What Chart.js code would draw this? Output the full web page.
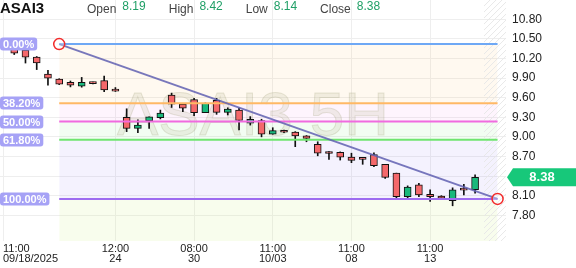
<!DOCTYPE html>
<html>
<head>
<meta charset="utf-8">
<script src="https://cdn.jsdelivr.net/npm/chart.js@4.4.0/dist/chart.umd.min.js"></script>
<style>
  html, body { margin: 0; padding: 0; background: #fff; }
  #wrap { width: 576px; height: 268px; }
</style>
</head>
<body>
<div id="wrap"><canvas id="chart" width="576" height="268"></canvas></div>
<script>
// ── Data ──────────
const symbol = 'ASAI3';
const interval = '5H';

const opens  = [10.40, 10.34, 10.33, 10.22, 9.96, 9.885, 9.835, 9.775, 9.83, 9.86, 9.73,
                9.30, 9.13, 9.245, 9.295, 9.64, 9.50, 9.57, 9.37, 9.56, 9.375,
                9.41, 9.21, 9.25, 9.04, 9.10, 9.075, 9.015, 8.885, 8.75, 8.765,
                8.69, 8.66, 8.73, 8.58, 8.445, 8.085, 8.265, 8.12, 8.095, 8.025,
                8.19, 8.19];
const highs  = [10.50, 10.40, 10.35, 10.23, 10.02, 9.89, 9.855, 9.91, 9.84, 9.93, 9.755,
                9.43, 9.26, 9.305, 9.41, 9.67, 9.50, 9.59, 9.52, 9.59, 9.445,
                9.44, 9.31, 9.27, 9.14, 9.105, 9.08, 9.02, 8.925, 8.775, 8.77,
                8.75, 8.665, 8.755, 8.58, 8.445, 8.25, 8.29, 8.19, 8.10, 8.22,
                8.275, 8.42];
const lows   = [10.36, 10.26, 10.13, 10.03, 9.79, 9.80, 9.765, 9.76, 9.81, 9.69, 9.695,
                9.08, 9.065, 9.13, 9.275, 9.45, 9.385, 9.325, 9.37, 9.345, 9.335,
                9.105, 9.18, 9.00, 9.04, 9.065, 8.85, 8.925, 8.71, 8.655, 8.645,
                8.605, 8.58, 8.545, 8.365, 8.06, 8.06, 8.085, 8.01, 8.055, 7.945,
                8.11, 8.14];
const closes = [10.46, 10.28, 10.22, 10.13, 9.90, 9.805, 9.79, 9.835, 9.815, 9.72, 9.70,
                9.13, 9.18, 9.305, 9.365, 9.50, 9.44, 9.37, 9.515, 9.375, 9.425,
                9.25, 9.27, 9.04, 9.095, 9.07, 9.015, 8.975, 8.75, 8.745, 8.69,
                8.64, 8.655, 8.56, 8.38, 8.085, 8.23, 8.11, 8.085, 8.06, 8.19,
                8.185, 8.38];

const timeTickIdx = [0, 10, 17, 24, 31, 38];
const timeTickLabels = [['11:00', '09/18/2025'], ['12:00', '24'], ['08:00', '30'],
                        ['11:00', '10/03'], ['11:00', '08'], ['11:00', '13']];
const yTicks = [10.80, 10.50, 10.20, 9.90, 9.60, 9.30, 9.00, 8.70, 8.40, 8.10, 7.80];

const fibLevels = [0, 0.382, 0.5, 0.618, 1];
const fibLabels = ['0.00%', '38.20%', '50.00%', '61.80%', '100.00%'];
const fibLineColors = ['#6ea8f5', '#ffb865', '#f06bdf', '#6fe56f', '#9d6cf0'];
const fibFillColors = ['rgba(255,185,90,0.09)', 'rgba(240,110,225,0.08)', 'rgba(110,230,110,0.09)',
                       'rgba(150,125,245,0.10)', 'rgba(200,235,110,0.12)'];
const fibStart = { x: 5, y: 10.42 };
const fibEnd = { x: 44, y: 8.05 };
const futureStart = 42.8;

const ohlcHeader = [['Open', 8.19], ['High', 8.42], ['Low', 8.14], ['Close', 8.38]];
const lastPrice = 8.38;

// ── Setup ──────────
const FONT = 'Arial, "Liberation Sans", sans-serif';
Chart.defaults.font.family = FONT;

const idx = opens.map((_, i) => i);
const fibPrices = fibLevels.map(l => fibStart.y - l * (fibStart.y - fibEnd.y));

function zeroPad(s) { s.paddingLeft = 0; s.paddingRight = 0; s.paddingTop = 0; s.paddingBottom = 0; }

const fibDatasets = fibPrices.map((p, k) => ({
    type: 'line',
    data: [{ x: fibStart.x, y: p }, { x: fibEnd.x, y: p }],
    borderColor: fibLineColors[k],
    borderWidth: 2,
    pointRadius: 0,
    fill: k < fibPrices.length - 1 ? '+1' : 'start',
    backgroundColor: fibFillColors[k],
    order: 2
}));

// decorations drawn from the scales
const decor = {
    id: 'decor',
    beforeDatasetsDraw(chart) {
        const { ctx, chartArea: a, scales: { x } } = chart;
        ctx.save();
        // watermark
        ctx.font = '62px ' + FONT;
        ctx.textAlign = 'center';
        ctx.textBaseline = 'alphabetic';
        ctx.fillStyle = 'rgba(185,185,150,0.2)';
        ctx.strokeStyle = 'rgba(150,150,110,0.22)';
        ctx.lineWidth = 1;
        ctx.fillText(symbol + ' ' + interval, (a.left + a.right) / 2, 135);
        ctx.strokeText(symbol + ' ' + interval, (a.left + a.right) / 2, 135);
        // future hatch
        const hx = x.getPixelForValue(futureStart);
        ctx.beginPath();
        ctx.rect(hx, a.top, a.right - hx, a.bottom - a.top);
        ctx.clip();
        ctx.beginPath();
        ctx.strokeStyle = '#e8e8e8';
        const h = a.bottom - a.top;
        for (let k = hx - h; k < a.right + 6; k += 6) {
            ctx.moveTo(k, a.bottom);
            ctx.lineTo(k + h, a.top);
        }
        ctx.stroke();
        ctx.restore();
    },
    afterDatasetsDraw(chart) {
        const { ctx, scales: { y } } = chart;
        ctx.save();
        ctx.font = 'bold 11px ' + FONT;
        ctx.textBaseline = 'middle';
        fibPrices.forEach((p, k) => {
            const py = Math.round(y.getPixelForValue(p));
            const w = ctx.measureText(fibLabels[k]).width + 6;
            ctx.fillStyle = '#a6a2f6';
            ctx.beginPath();
            ctx.roundRect(0, py - 6.5, w, 13, 3);
            ctx.fill();
            ctx.fillStyle = '#fff';
            ctx.fillText(fibLabels[k], 3, py + 0.5);
        });
        ctx.restore();
    },
    afterDraw(chart) {
        const { ctx, chartArea: a, scales: { y } } = chart;
        ctx.save();
        // header
        ctx.textBaseline = 'alphabetic';
        ctx.font = 'bold 15px ' + FONT;
        ctx.fillStyle = '#111';
        ctx.fillText(symbol, 0, 13);
        let hx = 87;
        ohlcHeader.forEach(([lab, val]) => {
            ctx.font = '12px ' + FONT;
            ctx.fillStyle = '#444';
            ctx.fillText(lab, hx, 13);
            hx += ctx.measureText(lab).width + 6;
            ctx.fillStyle = '#1f9f66';
            ctx.fillText(val.toFixed(2), hx, 10);
            hx += ctx.measureText(val.toFixed(2)).width + 23;
        });
        // last price tag
        const py = y.getPixelForValue(lastPrice);
        const L = a.right + 1;
        ctx.fillStyle = '#17c87a';
        ctx.beginPath();
        ctx.moveTo(L, py);
        ctx.lineTo(L + 6, py - 9);
        ctx.lineTo(576, py - 9);
        ctx.lineTo(576, py + 9);
        ctx.lineTo(L + 6, py + 9);
        ctx.closePath();
        ctx.fill();
        ctx.fillStyle = '#fff';
        ctx.font = 'bold 13px ' + FONT;
        ctx.textAlign = 'center';
        ctx.textBaseline = 'middle';
        ctx.fillText(lastPrice.toFixed(2), 542, py + 0.5);
        ctx.restore();
    }
};

new Chart(document.getElementById('chart'), {
    type: 'bar',
    data: {
        datasets: [
            {
                type: 'bar',
                data: idx.map(i => ({ x: i, y: [lows[i], highs[i]] })),
                backgroundColor: '#111',
                borderWidth: 0,
                barThickness: 1,
                grouped: false,
                order: 4
            },
            {
                type: 'bar',
                data: idx.map(i => ({ x: i, y: [opens[i], closes[i]] })),
                backgroundColor: idx.map(i => closes[i] >= opens[i] ? '#19b87c' : '#f4686b'),
                borderColor: '#111',
                borderWidth: 1,
                borderSkipped: false,
                barThickness: 7,
                minBarLength: 2,
                grouped: false,
                order: 3
            },
            ...fibDatasets,
            {
                type: 'line',
                data: [fibStart, fibEnd],
                borderColor: 'rgba(96,96,178,0.85)',
                borderWidth: 2,
                pointRadius: 5.5,
                pointBorderWidth: 1.5,
                pointBorderColor: '#f22a2a',
                pointBackgroundColor: 'rgba(255,255,255,0.35)',
                fill: false,
                order: 1
            }
        ]
    },
    options: {
        responsive: false,
        animation: false,
        devicePixelRatio: 1,
        layout: { padding: 0, autoPadding: false },
        plugins: {
            legend: { display: false },
            tooltip: { enabled: false },
            filler: { drawTime: 'beforeDatasetsDraw' }
        },
        scales: {
            x: {
                type: 'linear',
                min: -0.267,
                max: 44.75,
                offset: false,
                afterBuildTicks: s => { s.ticks = timeTickIdx.map(v => ({ value: v })).concat([{ value: 44.75 }]); },
                afterFit: s => { s.height = 27; zeroPad(s); },
                grid: { offset: false, drawTicks: false, color: c => (c.tick && c.tick.value > 40) ? 'rgba(0,0,0,0)' : '#eeeeee' },
                border: { display: false },
                ticks: {
                    align: 'inner', padding: 3, maxRotation: 0, autoSkip: false, color: '#222',
                    font: { size: 11, lineHeight: 0.9 },
                    callback: v => { const k = timeTickIdx.indexOf(v); return k < 0 ? '' : timeTickLabels[k]; }
                }
            },
            y: {
                type: 'linear',
                position: 'right',
                min: 7.406,
                max: 11.095,
                afterBuildTicks: s => { s.ticks = yTicks.map(v => ({ value: v })); },
                afterFit: s => { s.width = 70; zeroPad(s); },
                grid: { drawTicks: false, color: '#eeeeee' },
                border: { display: false },
                ticks: { padding: 6, color: '#222', font: { size: 12 }, callback: v => v.toFixed(2) }
            }
        }
    },
    plugins: [decor]
});
</script>
</body>
</html>
